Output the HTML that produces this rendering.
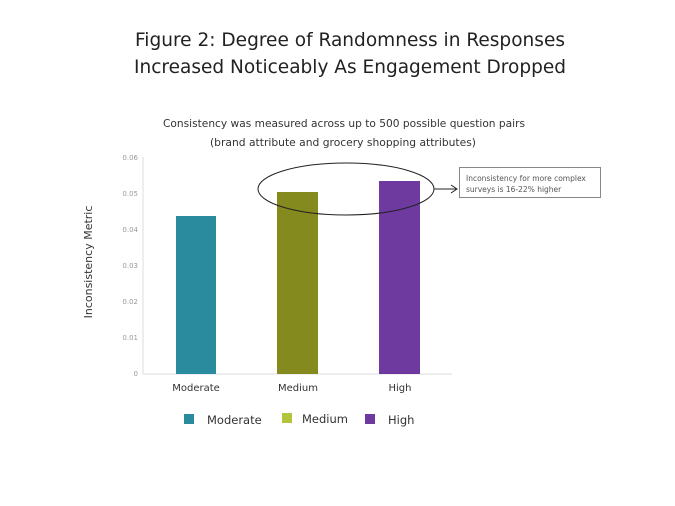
<!DOCTYPE html>
<html><head><style>
body{margin:0;background:#fff;width:675px;height:506px;overflow:hidden}
svg{display:block}
</style></head><body>
<svg width="675" height="506" xmlns="http://www.w3.org/2000/svg">
<g font-family="DejaVu Sans, Liberation Sans, sans-serif">
<text x="350" y="46" text-anchor="middle" font-size="19" fill="#222" textLength="430" lengthAdjust="spacingAndGlyphs">Figure 2: Degree of Randomness in Responses</text>
<text x="350" y="73" text-anchor="middle" font-size="19" fill="#222" textLength="432" lengthAdjust="spacingAndGlyphs">Increased Noticeably As Engagement Dropped</text>
<text x="344" y="127" text-anchor="middle" font-size="11" fill="#333" textLength="362" lengthAdjust="spacingAndGlyphs">Consistency was measured across up to 500 possible question pairs</text>
<text x="343" y="146" text-anchor="middle" font-size="11" fill="#333" textLength="266" lengthAdjust="spacingAndGlyphs">(brand attribute and grocery shopping attributes)</text>
<text transform="translate(92,262) rotate(-90)" text-anchor="middle" font-size="11" fill="#333">Inconsistency Metric</text>
<g font-size="7" fill="#999" text-anchor="end">
<text x="138" y="160">0.06</text><text x="138" y="196">0.05</text><text x="138" y="232">0.04</text>
<text x="138" y="268">0.03</text><text x="138" y="304">0.02</text><text x="138" y="340">0.01</text><text x="138" y="376">0</text>
</g>
<line x1="143" y1="157" x2="143" y2="374" stroke="#ddd"/>
<line x1="143" y1="374" x2="452" y2="374" stroke="#ddd"/>
<rect x="176" y="216" width="40" height="158" fill="#2a8b9e"/>
<rect x="277" y="192" width="41" height="182" fill="#858a1e"/>
<rect x="379" y="181" width="41" height="193" fill="#6e3aa0"/>
<g font-size="10" fill="#333" text-anchor="middle">
<text x="196" y="391">Moderate</text><text x="298" y="391">Medium</text><text x="400" y="391">High</text>
</g>
<ellipse cx="346" cy="189" rx="88" ry="26" fill="none" stroke="#222" stroke-width="1"/>
<line x1="434" y1="189" x2="457" y2="189" stroke="#222"/>
<path d="M451 185 L457 189 L451 193" fill="none" stroke="#222"/>
<rect x="459.5" y="167.5" width="141" height="30" fill="#fff" stroke="#888"/>
<text x="466" y="181" font-size="7.5" fill="#555">Inconsistency for more complex</text>
<text x="466" y="192" font-size="7.5" fill="#555">surveys is 16-22% higher</text>
<rect x="184" y="414" width="10" height="10" fill="#2a8b9e"/>
<rect x="282" y="413" width="10" height="10" fill="#b4c43a"/>
<rect x="365" y="414" width="10" height="10" fill="#6e3aa0"/>
<g font-size="11.5" fill="#333">
<text x="207" y="424">Moderate</text><text x="302" y="423">Medium</text><text x="388" y="424">High</text>
</g>
</g>
</svg>
</body></html>
